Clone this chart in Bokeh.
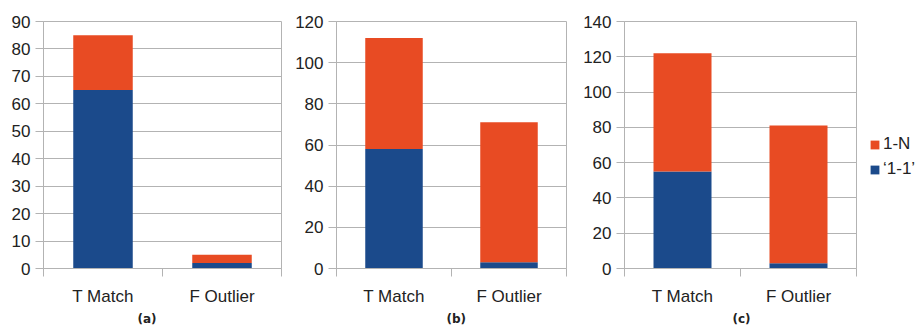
from bokeh.plotting import figure
from bokeh.models import Range1d, FixedTicker, Legend, LegendItem, Title, ColumnDataSource
from bokeh.layouts import row
from bokeh.embed import file_html
from bokeh.resources import INLINE

# ---- data ----
categories = ["T Match", "F Outlier"]
legend_labels = ["1-N", "\u20181-1\u2019"]

one_one_a = [65, 2]
one_n_a = [20, 3]
one_one_b = [58, 3]
one_n_b = [54, 68]
one_one_c = [55, 3]
one_n_c = [67, 78]

yticks_a = [0, 10, 20, 30, 40, 50, 60, 70, 80, 90]
yticks_b = [0, 20, 40, 60, 80, 100, 120]
yticks_c = [0, 20, 40, 60, 80, 100, 120, 140]

captions = ["(a)", "(b)", "(c)"]

# ---- style ----
BLUE = "#1b4a8b"
ORANGE = "#e84b23"
GRID = "#b3b3b3"
TXT = "#222222"
FONT = "Liberation Sans"
H = 327


def make_panel(one_one, one_n, yticks, caption, width, bl, br, bt, bb, cap_offset):
    p = figure(width=width, height=H, output_backend="svg", toolbar_location=None,
               x_range=Range1d(0, len(categories)), y_range=Range1d(yticks[0], yticks[-1]))
    p.min_border_left = bl
    p.min_border_right = br
    p.min_border_top = bt
    p.min_border_bottom = bb
    p.outline_line_color = GRID
    p.background_fill_color = "white"

    xs = [i + 0.5 for i in range(len(categories))]
    src = ColumnDataSource(dict(x=xs, one=one_one, n=one_n))
    p.vbar_stack(["one", "n"], x="x", width=0.5, color=[BLUE, ORANGE],
                 line_color=None, source=src)

    xa = p.xaxis[0]
    xa.ticker = FixedTicker(ticks=xs, minor_ticks=list(range(len(categories) + 1)))
    xa.major_label_overrides = {x: c for x, c in zip(xs, categories)}
    xa.major_tick_out = 0
    xa.major_tick_in = 0
    xa.minor_tick_out = 8
    xa.minor_tick_in = 0
    xa.minor_tick_line_color = GRID
    xa.axis_line_color = GRID
    xa.major_label_standoff = 10
    xa.major_label_text_font = FONT
    xa.major_label_text_font_size = "17px"
    xa.major_label_text_color = TXT

    ya = p.yaxis[0]
    ya.ticker = FixedTicker(ticks=yticks)
    ya.major_tick_out = 8
    ya.major_tick_in = 0
    ya.minor_tick_line_color = None
    ya.major_tick_line_color = GRID
    ya.axis_line_color = GRID
    ya.major_label_standoff = 5
    ya.major_label_text_font = FONT
    ya.major_label_text_font_size = "17px"
    ya.major_label_text_color = TXT

    p.xgrid.visible = False
    p.ygrid.ticker = FixedTicker(ticks=yticks)
    p.ygrid.grid_line_color = GRID

    t = Title(text=caption, align="left", offset=cap_offset, text_font="DejaVu Sans",
              text_font_style="bold", text_font_size="12px", text_color=TXT, standoff=3)
    p.add_layout(t, "below")
    return p


pa = make_panel(one_one_a, one_n_a, yticks_a, captions[0], 292, 43, 11, 21, 54, 94)
pb = make_panel(one_one_b, one_n_b, yticks_b, captions[1], 288, 42, 14, 19, 56, 110)
pc = make_panel(one_one_c, one_n_c, yticks_c, captions[2], 282, 44, 6, 17, 57, 108)

# legend panel (uses the same series colours; zero-height swatch renderers)
pl = figure(width=57, height=H, output_backend="svg", toolbar_location=None,
            x_range=Range1d(0, 1), y_range=Range1d(0, 1))
pl.min_border = 0
pl.outline_line_color = None
pl.axis.visible = False
pl.grid.visible = False
swatch = ColumnDataSource(dict(x=[0.5], top=[0]))
r_n = pl.vbar(x="x", top="top", width=0.0, color=ORANGE, line_color=None, source=swatch)
r_1 = pl.vbar(x="x", top="top", width=0.0, color=BLUE, line_color=None, source=swatch)
lg = Legend(items=[LegendItem(label=legend_labels[0], renderers=[r_n]),
                   LegendItem(label=legend_labels[1], renderers=[r_1])],
            location=(7, 89), glyph_width=11, glyph_height=11, label_standoff=3,
            spacing=5, padding=0, margin=0, border_line_color=None,
            background_fill_alpha=0, label_text_font=FONT,
            label_text_font_size="17px", label_text_color=TXT, label_height=20)
pl.add_layout(lg)

layout = row(pa, pb, pc, pl)
open("out.html", "w").write(file_html(layout, INLINE))
